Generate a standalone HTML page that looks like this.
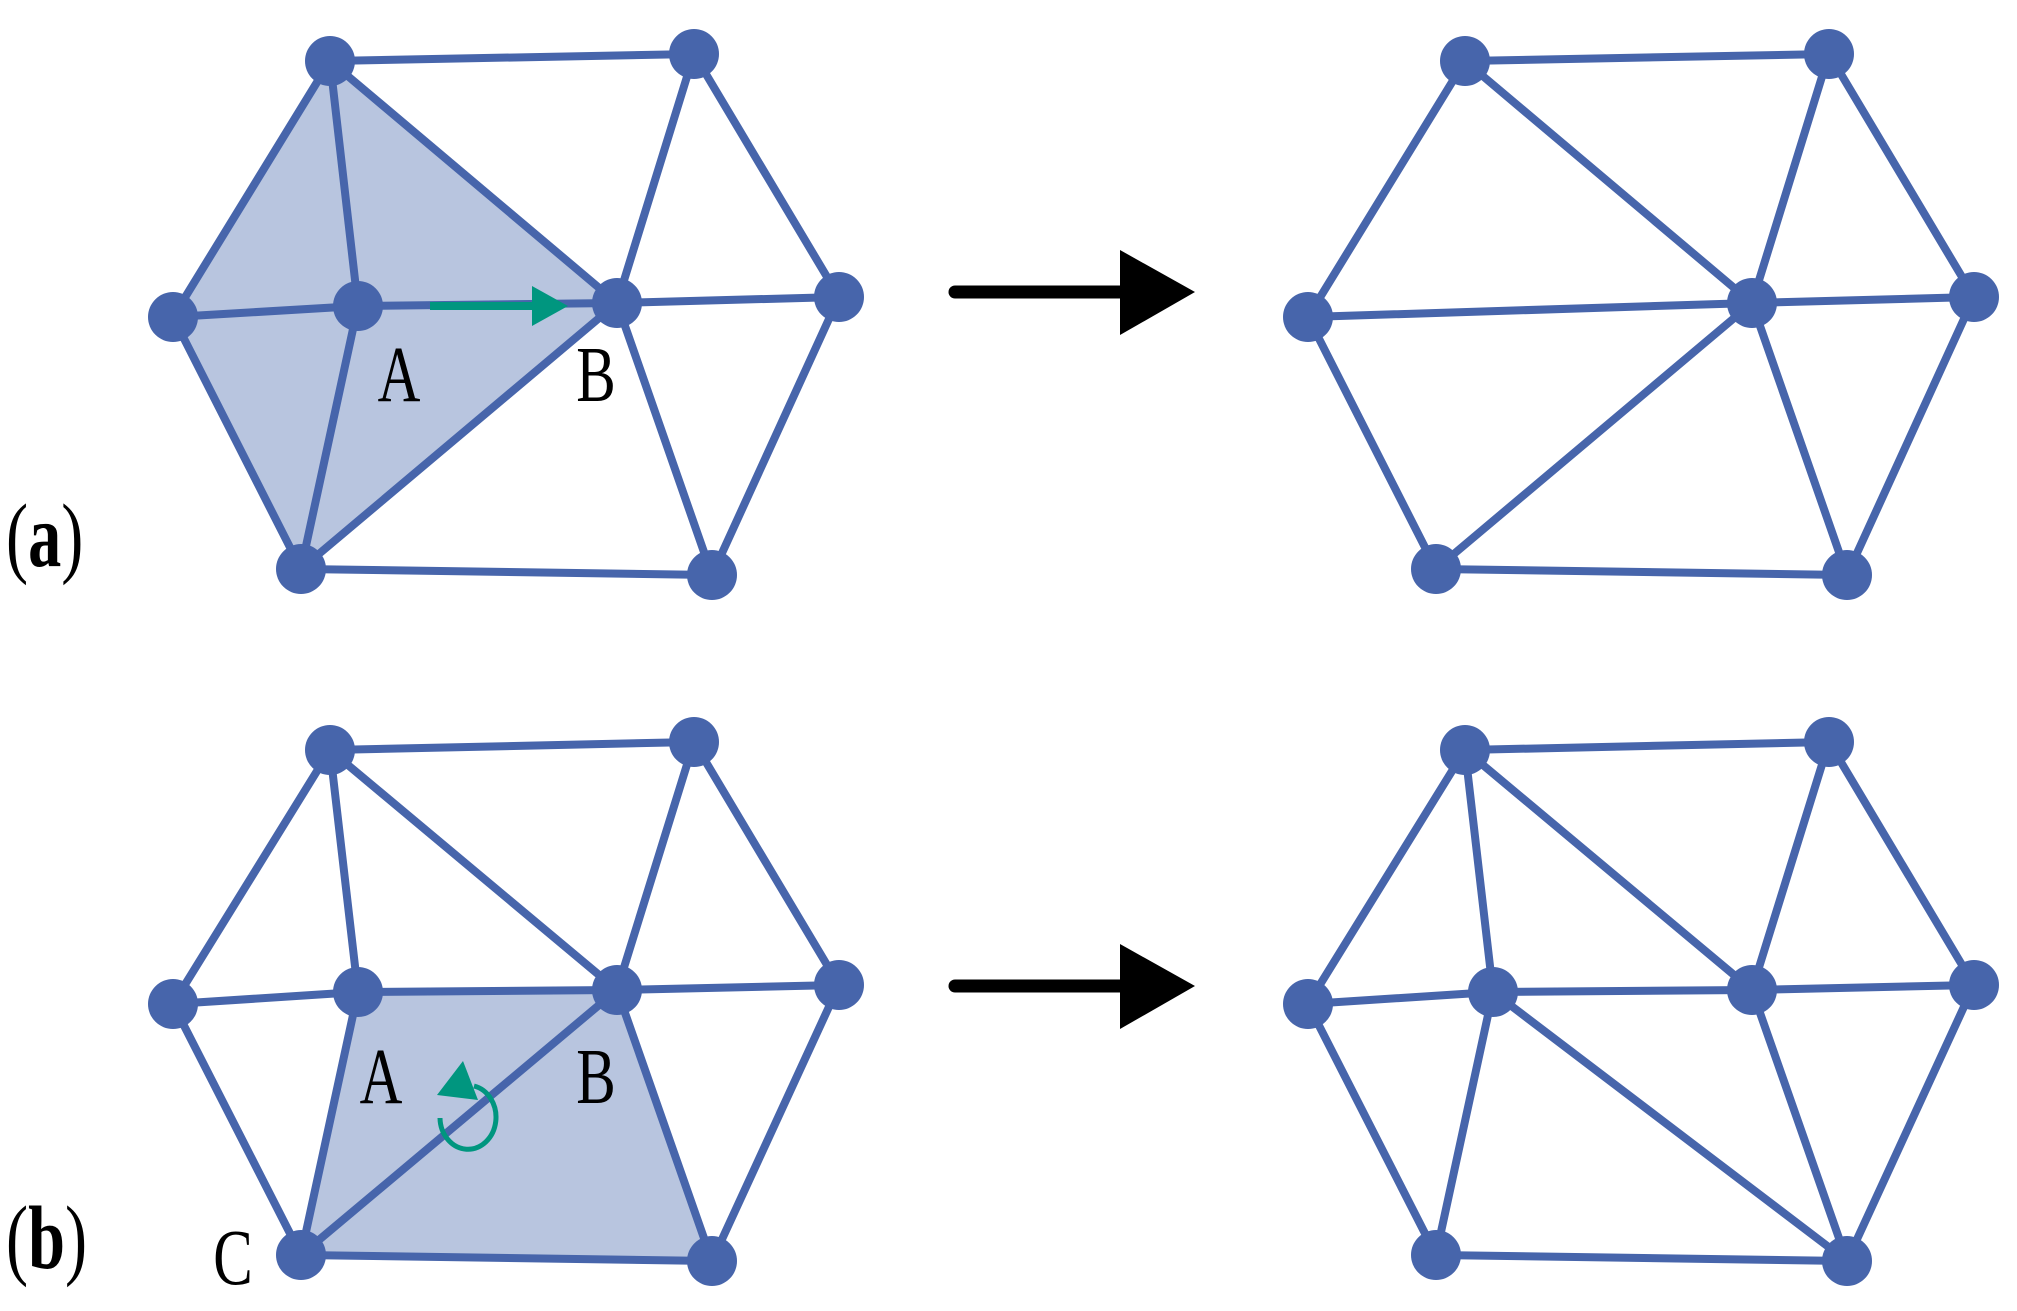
<!DOCTYPE html>
<html><head><meta charset="utf-8"><style>html,body{margin:0;padding:0;background:#fff}svg{display:block}</style></head>
<body>
<svg width="2017" height="1311" viewBox="0 0 2017 1311" xmlns="http://www.w3.org/2000/svg">
<!-- (a) left -->
<polygon points="330,61 173,317 301,569 617,303" fill="#b8c5df"/>
<g stroke="#4765ab" stroke-width="8" stroke-linecap="round" fill="none">
<line x1="330" y1="61" x2="694" y2="54"/><line x1="330" y1="61" x2="173" y2="317"/>
<line x1="330" y1="61" x2="358" y2="306"/><line x1="330" y1="61" x2="617" y2="303"/>
<line x1="694" y1="54" x2="617" y2="303"/><line x1="694" y1="54" x2="839" y2="297"/>
<line x1="173" y1="317" x2="358" y2="306"/><line x1="358" y1="306" x2="617" y2="303"/>
<line x1="617" y1="303" x2="839" y2="297"/><line x1="173" y1="317" x2="301" y2="569"/>
<line x1="358" y1="306" x2="301" y2="569"/><line x1="301" y1="569" x2="617" y2="303"/>
<line x1="617" y1="303" x2="712" y2="575"/><line x1="839" y1="297" x2="712" y2="575"/>
<line x1="301" y1="569" x2="712" y2="575"/>
</g>
<g fill="#4765ab">
<circle cx="330" cy="61" r="25"/><circle cx="694" cy="54" r="25"/><circle cx="173" cy="317" r="25"/>
<circle cx="358" cy="306" r="25"/><circle cx="617" cy="303" r="25"/><circle cx="839" cy="297" r="25"/>
<circle cx="301" cy="569" r="25"/><circle cx="712" cy="575" r="25"/>
</g>
<line x1="430" y1="306" x2="535" y2="306" stroke="#00967f" stroke-width="8"/>
<polygon points="532,286 568,306 532,326" fill="#00967f"/>
<g font-family="Liberation Serif, serif" fill="#000">
<text transform="translate(399,401) scale(0.8,1.08)" font-size="74" text-anchor="middle">A</text>
<text transform="translate(596,401) scale(0.8,1.08)" font-size="74" text-anchor="middle">B</text>
<text transform="translate(6,566) scale(0.85,1.15)" font-size="78"><tspan>(</tspan><tspan font-weight="bold">a</tspan><tspan>)</tspan></text>
</g>

<!-- (a) right -->
<g transform="translate(1135,0)">
<g stroke="#4765ab" stroke-width="8" stroke-linecap="round" fill="none">
<line x1="330" y1="61" x2="694" y2="54"/><line x1="330" y1="61" x2="173" y2="317"/>
<line x1="330" y1="61" x2="617" y2="303"/><line x1="694" y1="54" x2="617" y2="303"/>
<line x1="694" y1="54" x2="839" y2="297"/><line x1="173" y1="317" x2="617" y2="303"/>
<line x1="617" y1="303" x2="839" y2="297"/><line x1="173" y1="317" x2="301" y2="569"/>
<line x1="301" y1="569" x2="617" y2="303"/><line x1="617" y1="303" x2="712" y2="575"/>
<line x1="839" y1="297" x2="712" y2="575"/><line x1="301" y1="569" x2="712" y2="575"/>
</g>
<g fill="#4765ab">
<circle cx="330" cy="61" r="25"/><circle cx="694" cy="54" r="25"/><circle cx="173" cy="317" r="25"/>
<circle cx="617" cy="303" r="25"/><circle cx="839" cy="297" r="25"/>
<circle cx="301" cy="569" r="25"/><circle cx="712" cy="575" r="25"/>
</g>
</g>

<!-- black arrows -->
<line x1="955" y1="292" x2="1125" y2="292" stroke="#000" stroke-width="13" stroke-linecap="round"/>
<polygon points="1120,250 1195,292 1120,335" fill="#000"/>
<line x1="955" y1="986" x2="1125" y2="986" stroke="#000" stroke-width="13" stroke-linecap="round"/>
<polygon points="1120,944 1195,986 1120,1029" fill="#000"/>

<!-- (b) left -->
<polygon points="358,992 617,990 712,1261 301,1255" fill="#b8c5df"/>
<g stroke="#4765ab" stroke-width="8" stroke-linecap="round" fill="none">
<line x1="330" y1="750" x2="694" y2="742"/><line x1="330" y1="750" x2="173" y2="1004"/>
<line x1="330" y1="750" x2="358" y2="992"/><line x1="330" y1="750" x2="617" y2="990"/>
<line x1="694" y1="742" x2="617" y2="990"/><line x1="694" y1="742" x2="839" y2="985"/>
<line x1="173" y1="1004" x2="358" y2="992"/><line x1="358" y1="992" x2="617" y2="990"/>
<line x1="617" y1="990" x2="839" y2="985"/><line x1="173" y1="1004" x2="301" y2="1255"/>
<line x1="358" y1="992" x2="301" y2="1255"/><line x1="301" y1="1255" x2="617" y2="990"/>
<line x1="617" y1="990" x2="712" y2="1261"/><line x1="839" y1="985" x2="712" y2="1261"/>
<line x1="301" y1="1255" x2="712" y2="1261"/>
</g>
<g fill="#4765ab">
<circle cx="330" cy="750" r="25"/><circle cx="694" cy="742" r="25"/><circle cx="173" cy="1004" r="25"/>
<circle cx="358" cy="992" r="25"/><circle cx="617" cy="990" r="25"/><circle cx="839" cy="985" r="25"/>
<circle cx="301" cy="1255" r="25"/><circle cx="712" cy="1261" r="25"/>
</g>
<path d="M440,1118 A28,32 0 1 0 474,1086" fill="none" stroke="#00967f" stroke-width="5"/>
<polygon points="463,1061 437,1095 478,1100" fill="#00967f"/>
<g font-family="Liberation Serif, serif" fill="#000">
<text transform="translate(381,1103) scale(0.8,1.08)" font-size="74" text-anchor="middle">A</text>
<text transform="translate(596,1103) scale(0.8,1.08)" font-size="74" text-anchor="middle">B</text>
<text transform="translate(233,1284) scale(0.8,1.08)" font-size="74" text-anchor="middle">C</text>
<text transform="translate(6,1268) scale(0.85,1.15)" font-size="78"><tspan>(</tspan><tspan font-weight="bold">b</tspan><tspan>)</tspan></text>
</g>

<!-- (b) right -->
<g transform="translate(1135,0)">
<g stroke="#4765ab" stroke-width="8" stroke-linecap="round" fill="none">
<line x1="330" y1="750" x2="694" y2="742"/><line x1="330" y1="750" x2="173" y2="1004"/>
<line x1="330" y1="750" x2="358" y2="992"/><line x1="330" y1="750" x2="617" y2="990"/>
<line x1="694" y1="742" x2="617" y2="990"/><line x1="694" y1="742" x2="839" y2="985"/>
<line x1="173" y1="1004" x2="358" y2="992"/><line x1="358" y1="992" x2="617" y2="990"/>
<line x1="617" y1="990" x2="839" y2="985"/><line x1="173" y1="1004" x2="301" y2="1255"/>
<line x1="358" y1="992" x2="301" y2="1255"/><line x1="358" y1="992" x2="712" y2="1261"/>
<line x1="617" y1="990" x2="712" y2="1261"/><line x1="839" y1="985" x2="712" y2="1261"/>
<line x1="301" y1="1255" x2="712" y2="1261"/>
</g>
<g fill="#4765ab">
<circle cx="330" cy="750" r="25"/><circle cx="694" cy="742" r="25"/><circle cx="173" cy="1004" r="25"/>
<circle cx="358" cy="992" r="25"/><circle cx="617" cy="990" r="25"/><circle cx="839" cy="985" r="25"/>
<circle cx="301" cy="1255" r="25"/><circle cx="712" cy="1261" r="25"/>
</g>
</g>
</svg>
</body></html>
